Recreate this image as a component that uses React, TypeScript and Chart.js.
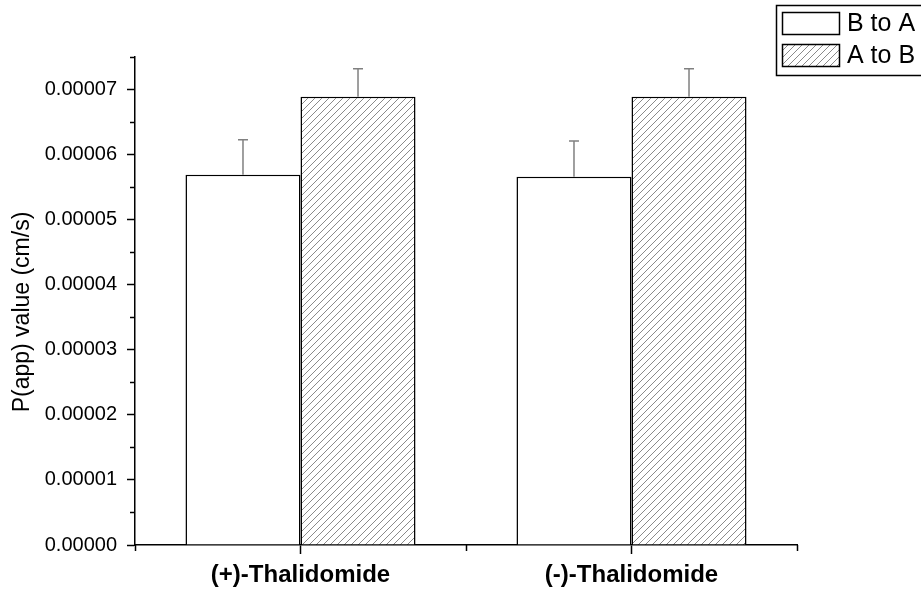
import React, { useEffect, useRef } from "react";
import { Chart, registerables } from "chart.js";

Chart.register(...registerables);

// Permeability data
const categories = ["(+)-Thalidomide", "(-)-Thalidomide"];
const seriesNames = ["B to A", "A to B"];
const bToA = [5.69e-5, 5.66e-5];
const bToAErr = [0.54e-5, 0.55e-5];
const aToB = [6.89e-5, 6.89e-5];
const aToBErr = [0.43e-5, 0.43e-5];
const yTitle = "P(app) value (cm/s)";
const yMax = 0.000075;
const yStep = 0.00001;

const FONT = "'Liberation Sans', Arial, sans-serif";

function makeHatch(): CanvasPattern | string {
  const size = 7;
  const c = document.createElement("canvas");
  c.width = size;
  c.height = size;
  const g = c.getContext("2d");
  if (!g) return "#fff";
  g.fillStyle = "#ffffff";
  g.fillRect(0, 0, size, size);
  g.strokeStyle = "#8a8a8a";
  g.lineWidth = 1;
  g.beginPath();
  g.moveTo(-1, size + 1);
  g.lineTo(size + 1, -1);
  g.moveTo(-1 - size, size + 1);
  g.lineTo(1, -1);
  g.moveTo(size - 1, size + 1);
  g.lineTo(2 * size + 1, -1);
  g.stroke();
  const p = g.createPattern(c, "repeat");
  return p || "#fff";
}

export default function App() {
  const ref = useRef<HTMLCanvasElement | null>(null);

  useEffect(() => {
    const canvas = ref.current;
    if (!canvas) return;
    const hatch = makeHatch();
    const errs = [bToAErr, aToBErr];

    const extras = {
      id: "extras",
      afterDatasetsDraw(chart: any) {
        const ctx = chart.ctx;
        const y = chart.scales.y;
        // error bars (upper only)
        ctx.save();
        ctx.strokeStyle = "#808080";
        ctx.lineWidth = 1.5;
        chart.data.datasets.forEach((ds: any, di: number) => {
          const meta = chart.getDatasetMeta(di);
          meta.data.forEach((bar: any, i: number) => {
            const top = y.getPixelForValue(ds.data[i]);
            const hi = y.getPixelForValue(ds.data[i] + errs[di][i]);
            ctx.beginPath();
            ctx.moveTo(bar.x, top);
            ctx.lineTo(bar.x, hi);
            ctx.moveTo(bar.x - 5, hi);
            ctx.lineTo(bar.x + 5, hi);
            ctx.stroke();
          });
        });
        ctx.restore();
      },
      afterDraw(chart: any) {
        const ctx = chart.ctx;
        const y = chart.scales.y;
        const area = chart.chartArea;
        ctx.save();
        ctx.strokeStyle = "#000";
        ctx.lineWidth = 1.5;
        // minor ticks on y axis
        for (let v = yStep / 2; v <= yMax + 1e-12; v += yStep) {
          const py = Math.round(y.getPixelForValue(v)) + 0.5;
          ctx.beginPath();
          ctx.moveTo(area.left - 5, py);
          ctx.lineTo(area.left, py);
          ctx.stroke();
        }
        // minor ticks on x axis at category boundaries
        const n = categories.length;
        for (let k = 0; k <= n; k++) {
          const px = Math.round(area.left + ((area.right - area.left) * k) / n) + 0.5;
          ctx.beginPath();
          ctx.moveTo(px, area.bottom);
          ctx.lineTo(px, area.bottom + 6);
          ctx.stroke();
        }
        // y title
        ctx.fillStyle = "#000";
        ctx.font = `23px ${FONT}`;
        ctx.textAlign = "center";
        ctx.textBaseline = "middle";
        ctx.translate(23, 312);
        ctx.rotate(-Math.PI / 2);
        ctx.fillText(yTitle, 0, 0);
        ctx.restore();

        // legend
        ctx.save();
        ctx.lineWidth = 1.5;
        ctx.strokeStyle = "#000";
        ctx.fillStyle = "#fff";
        ctx.fillRect(776, 5, 150, 71);
        ctx.strokeRect(776.5, 5.5, 150, 70);
        const fills = ["#ffffff", hatch];
        const rows = [12, 44];
        rows.forEach((ry, k) => {
          ctx.fillStyle = fills[k] as any;
          ctx.fillRect(782, ry, 57, 22);
          ctx.strokeStyle = "#000";
          ctx.lineWidth = 1.5;
          ctx.strokeRect(782.5, ry + 0.5, 57, 22);
          ctx.fillStyle = "#000";
          ctx.font = `25px ${FONT}`;
          ctx.textAlign = "left";
          ctx.textBaseline = "middle";
          ctx.fillText(seriesNames[k], 847, ry + 12);
        });
        ctx.restore();
      },
    };

    const chart = new Chart(canvas, {
      type: "bar",
      data: {
        labels: categories,
        datasets: [
          {
            label: seriesNames[0],
            data: bToA,
            backgroundColor: "#ffffff",
            borderColor: "#000",
            borderWidth: 1.5,
            categoryPercentage: 0.695,
            barPercentage: 1,
          },
          {
            label: seriesNames[1],
            data: aToB,
            backgroundColor: hatch as any,
            borderColor: "#000",
            borderWidth: 1.5,
            categoryPercentage: 0.695,
            barPercentage: 1,
          },
        ],
      },
      options: {
        responsive: false,
        animation: false,
        layout: { padding: { left: 0, top: 57, right: 124, bottom: 0 } },
        plugins: { legend: { display: false }, tooltip: { enabled: false } },
        scales: {
          x: {
            afterFit: (s: any) => {
              s.height = 45;
            },
            grid: {
              display: true,
              drawOnChartArea: false,
              offset: false,
              tickLength: 9,
              tickColor: "#000",
              tickWidth: 1.5,
            },
            border: { display: true, color: "#000", width: 1.5 },
            ticks: {
              color: "#000",
              padding: 7,
              font: { family: FONT, size: 24, weight: "bold" },
            },
          },
          y: {
            min: 0,
            max: yMax,
            afterFit: (s: any) => {
              s.width = 135;
            },
            afterBuildTicks: (s: any) => {
              s.ticks = s.ticks.filter(
                (t: any) => Math.abs(t.value / yStep - Math.round(t.value / yStep)) < 1e-6
              );
            },
            grid: {
              display: true,
              drawOnChartArea: false,
              tickLength: 8,
              tickColor: "#000",
              tickWidth: 1.5,
            },
            border: { display: true, color: "#000", width: 1.5 },
            ticks: {
              stepSize: yStep,
              color: "#000",
              padding: 10,
              font: { family: FONT, size: 20 },
              callback: (v: any) => Number(v).toFixed(5),
            },
          },
        },
      },
      plugins: [extras],
    });

    return () => chart.destroy();
  }, []);

  return (
    <div style={{ position: "absolute", left: 0, top: 0, width: 921, height: 590, background: "#fff" }}>
      <canvas ref={ref} width={921} height={590} />
    </div>
  );
}
